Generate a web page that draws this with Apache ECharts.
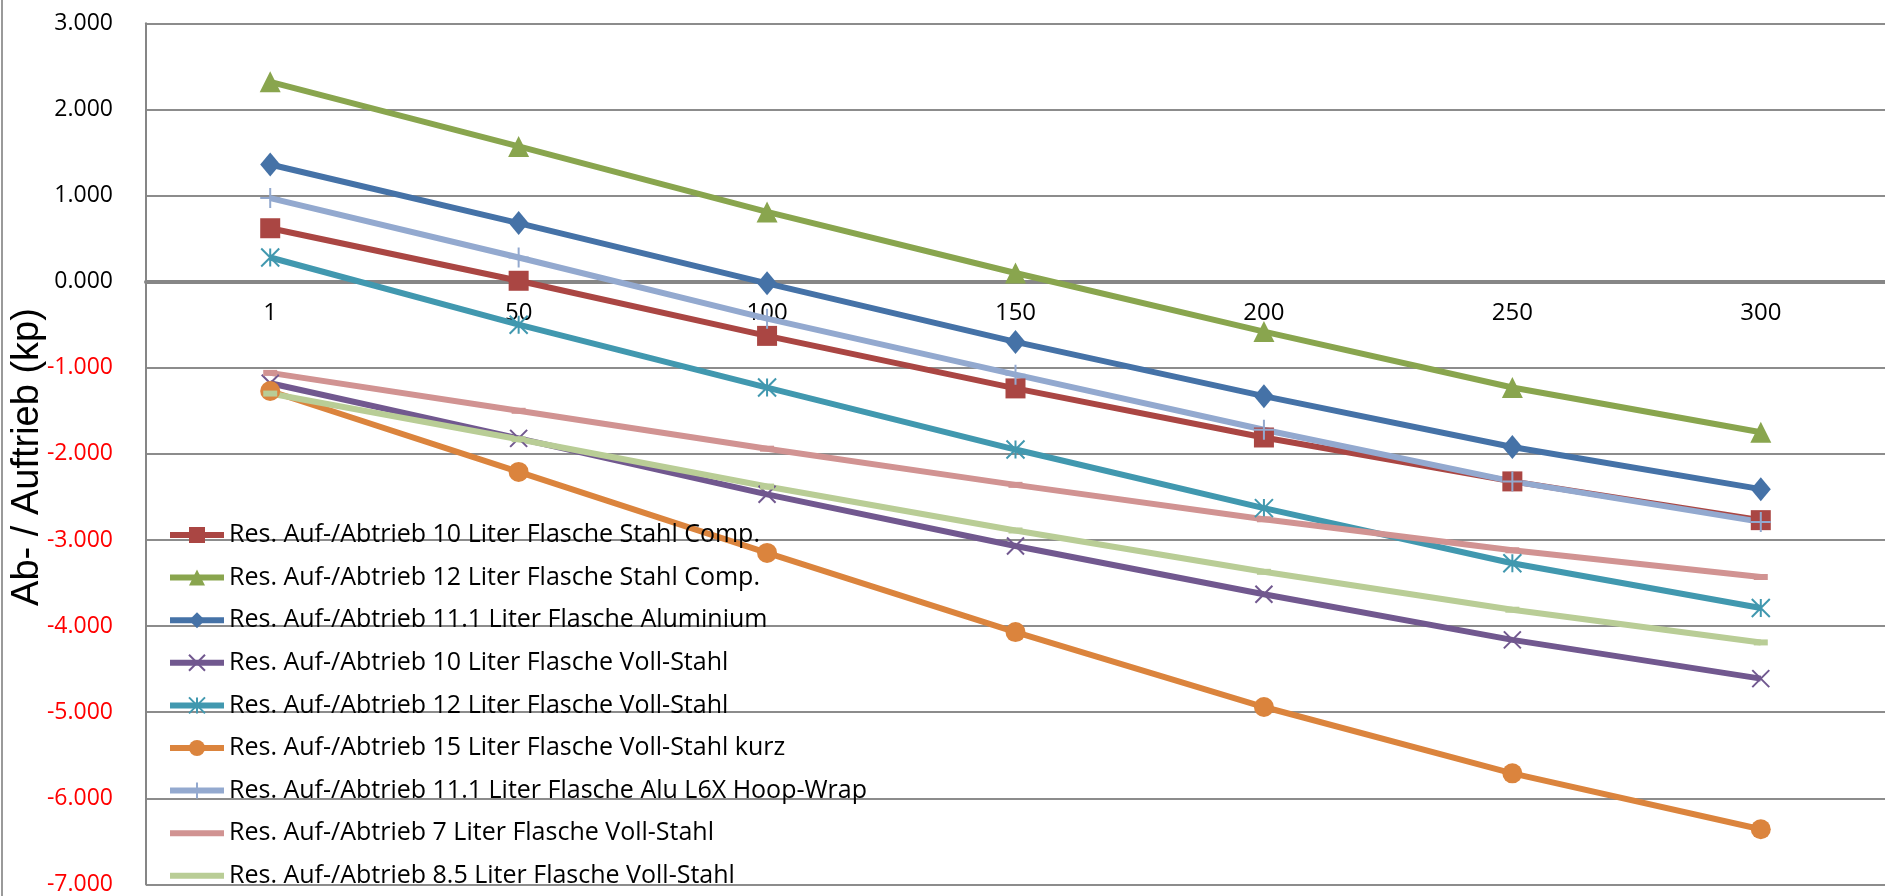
<!DOCTYPE html>
<html>
<head>
<meta charset="utf-8">
<script src="https://cdn.jsdelivr.net/npm/echarts@6/dist/echarts.min.js"></script>
<style>
html,body{margin:0;padding:0;background:#fff;}
#chart{width:1885px;height:896px;}
</style>
</head>
<body>
<div id="chart"></div>
<script>
const categories = ['1', '50', '100', '150', '200', '250', '300'];
const yTicks = [-7, -6, -5, -4, -3, -2, -1, 0, 1, 2, 3];

const names = [
  'Res. Auf-/Abtrieb 10 Liter Flasche Stahl Comp.',
  'Res. Auf-/Abtrieb 12 Liter Flasche Stahl Comp.',
  'Res. Auf-/Abtrieb 11.1 Liter Flasche Aluminium',
  'Res. Auf-/Abtrieb 10 Liter Flasche Voll-Stahl',
  'Res. Auf-/Abtrieb 12 Liter Flasche Voll-Stahl',
  'Res. Auf-/Abtrieb 15 Liter Flasche Voll-Stahl kurz',
  'Res. Auf-/Abtrieb 11.1 Liter Flasche Alu L6X Hoop-Wrap',
  'Res. Auf-/Abtrieb 7 Liter Flasche Voll-Stahl',
  'Res. Auf-/Abtrieb 8.5 Liter Flasche Voll-Stahl'
];

const stahlComp10  = [0.62, 0.01, -0.63, -1.24, -1.81, -2.32, -2.77];
const stahlComp12  = [2.32, 1.57, 0.81, 0.10, -0.58, -1.23, -1.75];
const alu111       = [1.36, 0.68, -0.02, -0.70, -1.33, -1.92, -2.41];
const vollStahl10  = [-1.18, -1.82, -2.47, -3.07, -3.63, -4.16, -4.61];
const vollStahl12  = [0.28, -0.50, -1.23, -1.95, -2.63, -3.27, -3.79];
const vollStahl15k = [-1.27, -2.21, -3.15, -4.07, -4.94, -5.71, -6.36];
const aluHoop111   = [0.97, 0.28, -0.43, -1.08, -1.72, -2.32, -2.79];
const vollStahl7   = [-1.06, -1.50, -1.94, -2.36, -2.76, -3.12, -3.43];
const vollStahl85  = [-1.30, -1.83, -2.38, -2.89, -3.37, -3.81, -4.19];

const SYM_X = 'path://M0,0L10,10M10,0L0,10';
const SYM_STAR = 'path://M5,0L5,10M0,0L10,10M10,0L0,10';
const SYM_PLUS = 'path://M5,0L5,10M1,5L9,5';
const SYM_DASH = 'path://M0,0L10,0L10,4L0,4Z';
const LEGEND_LINE = 'path://M0,0L54,0L54,6L0,6Z';

function mk(name, data, color, symbol, size, stroke) {
  return {
    name: name, type: 'line', data: data, color: color,
    symbol: symbol, symbolSize: size, showSymbol: true,
    symbolKeepAspect: false,
    lineStyle: { color: color, width: 6 },
    itemStyle: stroke ? { color: 'rgba(0,0,0,0)', borderColor: color, borderWidth: 2 } : { color: color, borderWidth: 0 },
    emphasis: { disabled: true },
    animation: false
  };
}

const colors = ['#AA4643', '#89A54E', '#4572A7', '#71588F', '#4198AF', '#DB843D', '#93A9CF', '#D19392', '#B9CD96'];

const series = [
  mk(names[0], stahlComp10, colors[0], 'rect', 20, false),
  mk(names[1], stahlComp12, colors[1], 'triangle', 21, false),
  mk(names[2], alu111, colors[2], 'diamond', [20, 24], false),
  mk(names[3], vollStahl10, colors[3], SYM_X, 17, true),
  mk(names[4], vollStahl12, colors[4], SYM_STAR, 18, true),
  mk(names[5], vollStahl15k, colors[5], 'circle', 20, false),
  mk(names[6], aluHoop111, colors[6], SYM_PLUS, 20, true),
  mk(names[7], vollStahl7, colors[7], SYM_DASH, [14, 6], false),
  mk(names[8], vollStahl85, colors[8], SYM_DASH, [14, 6], false)
];

const legendData = names.map((n, i) => (i >= 7 ? { name: n, icon: LEGEND_LINE, itemStyle: { color: colors[i] } } : { name: n }));

const chart = echarts.init(document.getElementById('chart'), null, { renderer: 'canvas' });
chart.setOption({
  animation: false,
  backgroundColor: '#fff',
  grid: { left: 146, top: 23.3, width: 1743, height: 861.1, containLabel: false },
  xAxis: {
    type: 'category', data: categories, boundaryGap: true,
    position: 'bottom', offset: -602.7,
    axisLine: { onZero: false, lineStyle: { color: '#868686', width: 4 } },
    axisTick: { show: false },
    axisLabel: { margin: 19, fontSize: 24, fontFamily: 'Open Sans', color: '#000' },
    splitLine: { show: false }
  },
  yAxis: {
    type: 'value', min: yTicks[0], max: yTicks[yTicks.length - 1], interval: 1,
    axisLine: { show: true, lineStyle: { color: '#868686', width: 2 } },
    axisTick: { show: false },
    axisLabel: {
      margin: 33, fontSize: 23, fontFamily: 'Open Sans',
      formatter: v => v.toFixed(3),
      color: v => (Number(v) < 0 ? '#FF0000' : '#000000')
    },
    splitLine: { show: true, lineStyle: { color: '#8c8c8c', width: 2 } }
  },
  legend: {
    orient: 'vertical', left: 167, top: 522, padding: 0,
    itemWidth: 54, itemHeight: 20, itemGap: 16.6,
    lineStyle: { width: 6 },
    textStyle: { fontSize: 25, fontFamily: 'Open Sans', color: '#000', lineHeight: 26 },
    data: legendData
  },
  graphic: [
    { type: 'line', shape: { x1: 2, y1: 0, x2: 2, y2: 896 }, style: { stroke: '#9a9a9a', lineWidth: 2 } },
    { type: 'text', x: 28, y: 457, rotation: Math.PI / 2,
      style: { text: 'Ab- / Auftrieb (kp)', font: '38px "Liberation Sans", Arial, sans-serif', fill: '#000', textAlign: 'center', textVerticalAlign: 'middle' } }
  ],
  series: series
});
</script>
</body>
</html>
